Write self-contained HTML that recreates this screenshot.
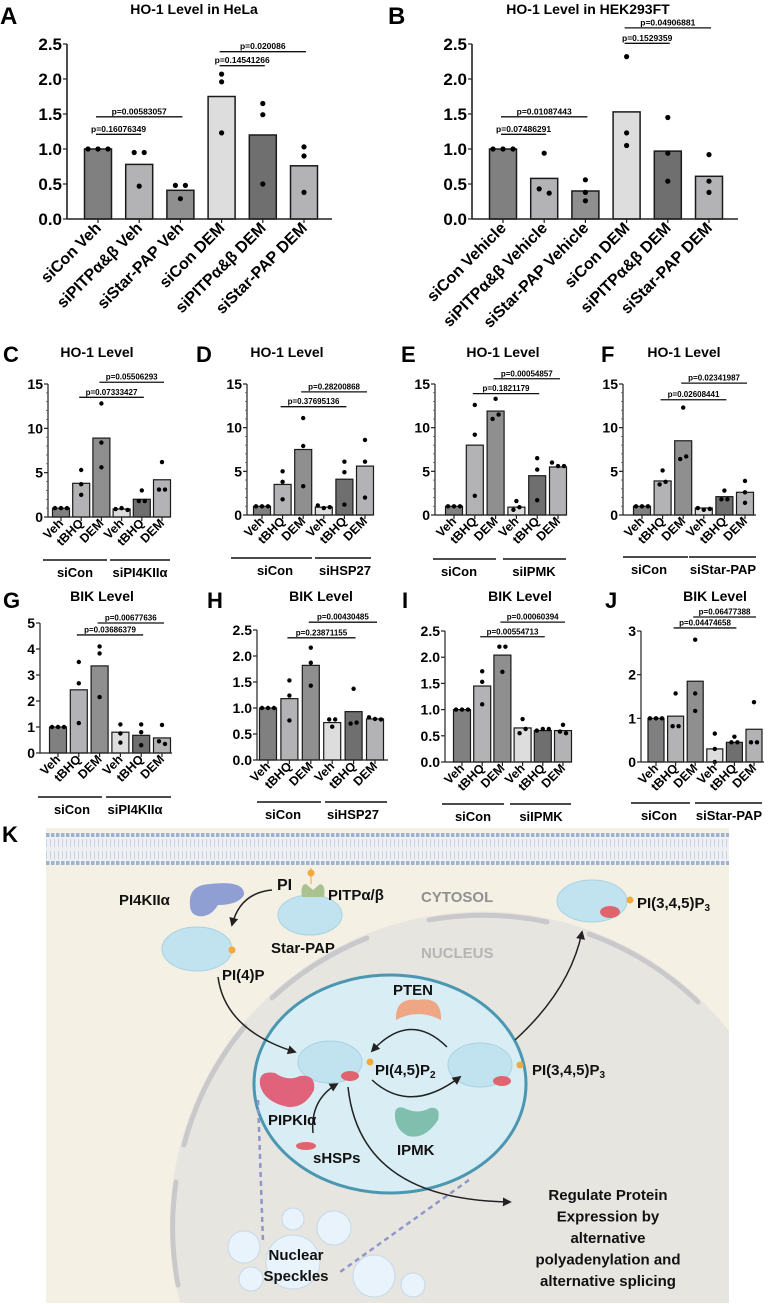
<!DOCTYPE html>
<html><head><meta charset="utf-8"><style>
html,body{margin:0;padding:0;background:#fff;width:772px;height:1304px;overflow:hidden;}
svg{display:block;font-family:"Liberation Sans",Arial,sans-serif;}
</style></head><body>
<svg id="fig" width="772" height="1304" viewBox="0 0 772 1304" xmlns="http://www.w3.org/2000/svg">
<g id="charts"></g>
<g id="diagram">
  <defs>
    <marker id="ah" viewBox="0 0 10 10" refX="8" refY="5" markerWidth="6" markerHeight="6" orient="auto"><path d="M0,0 L10,5 L0,10 z" fill="#222"/></marker>
  </defs>
  <rect x="46" y="828" width="683" height="475" fill="#f4f0e4"/>
  <path d="M180 1303 A313 313 0 0 1 729 1031 L729 1303 Z" fill="#e7e5e0"/>
  <g fill="none" stroke="#c9c9cc" stroke-width="5" stroke-linecap="round">
    <path d="M272 998 A310 310 0 0 1 367 938"/>
    <path d="M429 920 A310 310 0 0 1 547 922"/>
    <path d="M589 934 A310 310 0 0 1 698 1002"/>
    <path d="M245 1026 A310 310 0 0 0 184 1145"/>
    <path d="M176 1182 A310 310 0 0 0 178 1285"/>
  </g>
  <g>
    <rect x="46" y="833" width="683" height="32" fill="#eef0f4"/>
    <line x1="46" y1="835" x2="729" y2="835" stroke="#9fb3cf" stroke-width="4" stroke-dasharray="3.5 1.5"/>
    <line x1="46" y1="863" x2="729" y2="863" stroke="#9fb3cf" stroke-width="4" stroke-dasharray="3.5 1.5"/>
    <line x1="46" y1="843" x2="729" y2="843" stroke="#c8d4e6" stroke-width="8" stroke-dasharray="1 3"/>
    <line x1="46" y1="855" x2="729" y2="855" stroke="#c8d4e6" stroke-width="8" stroke-dasharray="1 3"/>
  </g>
  <ellipse cx="390" cy="1084" rx="136" ry="109" fill="#d8edf4" stroke="#4b97b1" stroke-width="3"/>
  <g fill="#e9f3fb" stroke="#c4d9ea">
    <circle cx="244" cy="1247" r="16"/><circle cx="293" cy="1219" r="11"/><circle cx="334" cy="1228" r="17"/>
    <circle cx="293" cy="1262" r="27"/><circle cx="251" cy="1279" r="12"/><circle cx="374" cy="1276" r="21"/><circle cx="413" cy="1285" r="12"/>
  </g>
  <g stroke="#8f96cb" stroke-width="2.5" stroke-dasharray="5 4" fill="none">
    <path d="M258 1100 L263 1242"/><path d="M469 1180 L340 1272"/>
  </g>
  <g>
    <path d="M311 868 L311 884" stroke="#f1d27a" stroke-width="2"/>
    <circle cx="311" cy="873" r="3.5" fill="#f3a93c"/>
    <path d="M190 905 Q188 885 210 884 Q245 880 244 895 Q238 905 218 905 Q210 918 198 916 Q190 914 190 905z" fill="#8f9fd4"/>
    <ellipse cx="310" cy="915" rx="32" ry="20" fill="#c0e3ef" stroke="#a8d2e4"/>
    <path d="M302 897 Q300 884 306 884 L313 890 L320 884 Q326 885 324 897z" fill="#a9c28f"/>
    <ellipse cx="197" cy="949" rx="35" ry="22" fill="#c0e3ef" stroke="#a8d2e4"/>
    <circle cx="232" cy="950" r="3.5" fill="#f3a93c"/>
    <ellipse cx="592" cy="901" rx="35" ry="21" fill="#c0e3ef" stroke="#a8d2e4"/>
    <ellipse cx="330" cy="1062" rx="32" ry="21" fill="#c0e3ef" stroke="#a8d2e4"/>
    <ellipse cx="480" cy="1065" rx="32" ry="22" fill="#c0e3ef" stroke="#a8d2e4"/>
    <path d="M396 1020 Q395 997 418 1000 Q442 996 441 1020 Q418 1008 396 1020z" fill="#eea685"/>
    <path d="M260 1085 Q258 1070 275 1073 Q288 1082 300 1076 Q316 1074 314 1090 Q305 1108 288 1107 Q264 1102 260 1085z" fill="#e0627b"/>
    <path d="M395 1117 Q394 1105 404 1108 Q418 1115 430 1108 Q441 1106 438 1120 Q425 1140 408 1136 Q396 1130 395 1117z" fill="#80bfae"/>
    <g fill="#e0646e"><ellipse cx="350" cy="1076" rx="9" ry="5"/><ellipse cx="502" cy="1081" rx="9" ry="5"/><ellipse cx="610" cy="912" rx="10" ry="6"/><ellipse cx="306" cy="1146" rx="10" ry="4"/></g>
    <g fill="#f3a93c"><circle cx="370" cy="1062" r="3.5"/><circle cx="520" cy="1065" r="3.5"/><circle cx="630" cy="900" r="3.5"/></g>
  </g>
  <g fill="none" stroke="#222" stroke-width="1.5">
    <path d="M272 890 Q240 893 232 925" marker-end="url(#ah)"/>
    <path d="M218 977 Q225 1030 295 1052" marker-end="url(#ah)"/>
    <path d="M447 1047 Q410 1010 372 1051" marker-end="url(#ah)"/>
    <path d="M372 1080 Q410 1115 460 1077" marker-end="url(#ah)"/>
    <path d="M313 1133 Q310 1100 337 1084" marker-end="url(#ah)"/>
    <path d="M515 1040 Q570 990 582 932" marker-end="url(#ah)"/>
    <path d="M348 1087 Q360 1200 510 1202" marker-end="url(#ah)"/>
  </g>
  <g font-weight="bold" font-size="15" fill="#111">
    <text x="277" y="890" font-size="16">PI</text>
    <text x="328" y="900">PITPα/β</text>
    <text x="119" y="905">PI4KIIα</text>
    <text x="421" y="902" fill="#909090">CYTOSOL</text>
    <text x="271" y="953">Star-PAP</text>
    <text x="222" y="980">PI(4)P</text>
    <text x="421" y="958" fill="#b5b5b5">NUCLEUS</text>
    <text x="637" y="908">PI(3,4,5)P<tspan font-size="10" dy="3">3</tspan></text>
    <text x="393" y="995">PTEN</text>
    <text x="375" y="1075">PI(4,5)P<tspan font-size="10" dy="3">2</tspan></text>
    <text x="532" y="1075">PI(3,4,5)P<tspan font-size="10" dy="3">3</tspan></text>
    <text x="268" y="1125">PIPKIα</text>
    <text x="397" y="1155">IPMK</text>
    <text x="313" y="1163">sHSPs</text>
    <text x="296" y="1260" text-anchor="middle"><tspan x="296">Nuclear</tspan><tspan x="296" dy="21">Speckles</tspan></text>
    <text x="608" y="1200" text-anchor="middle"><tspan x="608">Regulate Protein</tspan><tspan x="608" dy="21.5">Expression by</tspan><tspan x="608" dy="21.5">alternative</tspan><tspan x="608" dy="21.5">polyadenylation and</tspan><tspan x="608" dy="21.5">alternative splicing</tspan></text>
  </g>
  <text x="2" y="842" font-size="22" font-weight="bold">K</text>
</g>
</svg>
<script>
// ---- data ----
const bigCatsA = ["siCon Veh","siPITPα&β Veh","siStar-PAP Veh","siCon DEM","siPITPα&β DEM","siStar-PAP DEM"];
const bigCatsB = ["siCon Vehicle","siPITPα&β Vehicle","siStar-PAP Vehicle","siCon DEM","siPITPα&β DEM","siStar-PAP DEM"];
const smallCats = ["Veh","tBHQ","DEM","Veh","tBHQ","DEM"];
const aBars = [1.0,0.78,0.41,1.75,1.2,0.76];
const aDots = [[1,1,1],[0.95,0.95,0.47],[0.48,0.48,0.29],[2.07,1.96,1.23],[1.65,1.49,0.5],[1.03,0.9,0.38]];
const bBars = [1.0,0.58,0.40,1.53,0.97,0.61];
const bDots = [[1,1,1],[0.94,0.43,0.37],[0.56,0.38,0.26],[2.32,1.23,1.05],[1.45,0.94,0.54],[0.92,0.54,0.38]];
const cBars = [1.0,3.8,8.9,0.9,2.0,4.2];
const cDots = [[1,1,1],[5.3,3.7,2.5],[12.8,8.4,5.6],[0.9,1.0,0.8],[3.0,1.8,1.8],[6.2,3.1,3.1]];
const dBars = [1.0,3.5,7.5,0.9,4.1,5.6];
const dDots = [[1,1,1],[5.0,3.8,1.8],[11.1,7.9,3.3],[1.1,0.8,0.9],[6.1,4.9,1.2],[8.6,6.1,2.0]];
const eBars = [1.0,8.0,11.9,0.9,4.5,5.5];
const eDots = [[1,1,1],[12.6,9.2,2.2],[13.3,11.0,11.5],[1.6,0.6,0.9],[6.5,5.2,1.7],[6.0,5.6,5.6]];
const fBars = [1.0,3.9,8.5,0.8,2.1,2.6];
const fDots = [[1,1,1],[5.1,3.5,3.8],[12.3,6.4,6.7],[0.8,0.6,0.7],[2.8,1.8,1.8],[3.9,2.6,1.4]];
const gBars = [1.0,2.43,3.35,0.8,0.68,0.58];
const gDots = [[1,1,1],[3.5,2.68,1.15],[4.1,3.83,2.15],[1.1,0.75,0.4],[1.1,0.8,0.3],[1.08,0.45,0.35]];
const hBars = [1.0,1.18,1.82,0.72,0.93,0.79];
const hDots = [[1,1,1],[1.53,1.24,0.76],[2.16,1.87,1.43],[0.78,0.78,0.64],[1.37,0.7,0.72],[0.82,0.79,0.78]];
const iBars = [1.0,1.45,2.04,0.65,0.6,0.6];
const iDots = [[1,1,1],[1.73,1.53,1.1],[2.2,2.2,1.72],[0.82,0.55,0.63],[0.6,0.63,0.63],[0.71,0.58,0.55]];
const jBars = [1.0,1.05,1.85,0.3,0.45,0.75];
const jDots = [[1,1,1],[1.57,0.82,0.82],[2.8,1.57,1.17],[0.65,0.0,0.3],[0.58,0.45,0.45],[1.37,0.45,0.45]];
const ticksAB = [0,0.5,1.0,1.5,2.0,2.5];
const ticksHO = [0,5,10,15];
const ticksG = [0,1,2,3,4,5];
const ticksHI = [0,0.5,1.0,1.5,2.0,2.5];
const ticksJ = [0,1,2,3];
const aP = ["p=0.16076349","p=0.00583057","p=0.14541266","p=0.020086"];
const aPLevels = [1.21,1.46,2.19,2.39];
const bP = ["p=0.07486291","p=0.01087443","p=0.1529359","p=0.04906881"];
const bPLevels = [1.21,1.46,2.51,2.73];
const cP = ["p=0.07333427","p=0.05506293"]; const cPLevels = [13.5,15.2];
const dP = ["p=0.37695136","p=0.28200868"]; const dPLevels = [12.4,14.1];
const eP = ["p=0.1821179","p=0.00054857"]; const ePLevels = [13.9,15.6];
const fP = ["p=0.02608441","p=0.02341987"]; const fPLevels = [13.2,15.1];
const gP = ["p=0.03686379","p=0.00677636"]; const gPLevels = [4.54,5.0];
const hP = ["p=0.23871155","p=0.00430485"]; const hPLevels = [2.35,2.65];
const iP = ["p=0.00554713","p=0.00060394"]; const iPLevels = [2.39,2.67];
const jP = ["p=0.04474658","p=0.06477388"]; const jPLevels = [3.07,3.32];

const NS="http://www.w3.org/2000/svg";
const root=document.getElementById('charts');
const colors=["#808080","#b3b3b6","#8f8f8f","#dddddd","#6f6f6f","#b3b3b6"];
function mk(tag,attrs,parent){const e=document.createElementNS(NS,tag);for(const k in attrs)e.setAttribute(k,attrs[k]);parent.appendChild(e);return e;}
function txt(s,attrs,parent){const e=mk('text',attrs,parent);e.textContent=s;return e;}

function panel(L,cats,bars,dots,ticks,pLab,pLev,pairs,groups){
  const g=mk('g',{},root);
  
  
  const vmax=ticks[ticks.length-1];
  const ys=v=>L.y0-(v/vmax)*(L.y0-L.yTop);
  const xs=i=>L.c0+i*L.step;
  const pl=txt(L.id.toUpperCase(),{x:L.lx,y:L.ly,'font-size':L.big?24:22,'font-weight':'bold'},g);
  
  
  const t=txt(L.title,{x:L.tx,y:L.ty,'font-size':14,'font-weight':'bold','text-anchor':'middle'},g);
  
  
  const ya=mk('line',{x1:L.ax,y1:L.yTop,x2:L.ax,y2:L.y0,stroke:'#222','stroke-width':L.big?1.6:1.2},g);
  
  
  if(L.minor){for(let v=0;v<=vmax;v+=L.minor){mk('line',{x1:L.ax-2,y1:ys(v),x2:L.ax,y2:ys(v),stroke:'#555','stroke-width':0.8},g);}}
  ticks.forEach(v=>{
    mk('line',{x1:L.ax-4,y1:ys(v),x2:L.ax,y2:ys(v),stroke:'#222','stroke-width':1.2},g);
    const lab=txt(L.fmt?v.toFixed(1):String(v),{x:L.ax-5,y:ys(v)+(L.big?6:5),'font-size':L.big?17:14,'font-weight':'bold','text-anchor':'end'},g);
    
    
  });
  bars.forEach((v,i)=>{
    const b=mk('rect',{x:xs(i)-L.bw/2,y:ys(v),width:L.bw,height:L.y0-ys(v),fill:colors[i],stroke:'#1a1a1a','stroke-width':L.big?1.5:1.2},g);
    
    
  });
  dots.forEach((arr,i)=>{
    const sp=L.big?10:6;
    arr.forEach((v,k)=>{
      let off;
      const same=arr.filter(w=>Math.abs(w-v)/vmax<0.04).length;
      if(same===3) off=(k-1)*sp; else if(same===2){off=(arr.slice(0,k).filter(w=>Math.abs(w-v)/vmax<0.04).length?1:-1)*sp/2;} else off=0;
      const d=mk('circle',{cx:xs(i)+off,cy:ys(v),r:L.big?2.6:2.2,fill:'#000'},g);
      
      
    });
  });
  const xa=mk('line',{x1:L.ax,y1:L.y0,x2:L.xEnd,y2:L.y0,stroke:'#222','stroke-width':L.big?1.6:1.2},g);
  
  
  cats.forEach((c,i)=>{
    mk('line',{x1:xs(i),y1:L.y0,x2:xs(i),y2:L.y0+4,stroke:'#222','stroke-width':1.2},g);
    const x=xs(i)+(L.big?4:3), y=L.y0+(L.big?10:7);
    const lab=txt(c,{x:x,y:y,'font-size':L.big?16:12.5,'font-weight':'bold','text-anchor':'end',transform:'rotate(-45 '+x+' '+y+')'},g);
    
    
  });
  pLab.forEach((p,k)=>{
    const a=xs(pairs[k][0])-2,b=xs(pairs[k][1])+2,y=ys(pLev[k]);
    const ln=mk('line',{x1:a,y1:y,x2:b,y2:y,stroke:'#111','stroke-width':1.3},g);
    
    
    const pt=txt(p,{x:(a+b)/2,y:y-2.5,'font-size':L.big?8.5:8,'font-weight':'bold','text-anchor':'middle'},g);
    
    
  });
  if(groups){
    groups.forEach(gr=>{
      const ln=mk('line',{x1:gr[1],y1:L.gy,x2:gr[2],y2:L.gy,stroke:'#111','stroke-width':1.5},g);
      
      
      const gt=txt(gr[0],{x:gr[3],y:L.gy+17,'font-size':13,'font-weight':'bold','text-anchor':'middle'},g);
      
      
    });
  }
}
const big=[[0,1],[0,2],[3,4],[3,5]], sm=[[1,4],[2,5]];
panel({id:'a',big:true,title:'HO-1 Level in HeLa',tx:194,ty:14,lx:0,ly:24,ax:67,y0:219,yTop:44,c0:98,step:41.2,bw:27,xEnd:332,fmt:true},bigCatsA,aBars,aDots,ticksAB,aP,aPLevels,big);
panel({id:'b',big:true,title:'HO-1 Level in HEK293FT',tx:588,ty:14,lx:388,ly:24,ax:472,y0:219,yTop:44,c0:503,step:41.2,bw:27,xEnd:738,fmt:true},bigCatsB,bBars,bDots,ticksAB,bP,bPLevels,big);
panel({id:'c',title:'HO-1 Level',tx:97,ty:357,lx:3,ly:362,ax:48,y0:517,yTop:384,c0:61,step:20.2,bw:17,xEnd:170,minor:1,gy:560},smallCats,cBars,cDots,ticksHO,cP,cPLevels,sm,[['siCon',43,107,75],['siPI4KIIα',110,170,140]]);
panel({id:'d',title:'HO-1 Level',tx:287,ty:357,lx:196,ly:362,ax:247,y0:515,yTop:384,c0:262,step:20.6,bw:17,xEnd:372,minor:1,gy:558},smallCats,dBars,dDots,ticksHO,dP,dPLevels,sm,[['siCon',231,312,275],['siHSP27',315,371,345]]);
panel({id:'e',title:'HO-1 Level',tx:503,ty:357,lx:401,ly:362,ax:435,y0:515,yTop:384,c0:454,step:20.8,bw:17,xEnd:566,minor:1,gy:559},smallCats,eBars,eDots,ticksHO,eP,ePLevels,sm,[['siCon',433,496,459],['siIPMK',503,566,534]]);
panel({id:'f',title:'HO-1 Level',tx:684,ty:357,lx:601,ly:362,ax:623,y0:515,yTop:384,c0:642,step:20.6,bw:17,xEnd:756,minor:1,gy:557},smallCats,fBars,fDots,ticksHO,fP,fPLevels,sm,[['siCon',623,688,649],['siStar-PAP',689,756,723]]);
panel({id:'g',title:'BIK Level',tx:102,ty:601,lx:3,ly:608,ax:40,y0:753,yTop:623,c0:58,step:20.8,bw:17,xEnd:172,gy:797},smallCats,gBars,gDots,ticksG,gP,gPLevels,sm,[['siCon',38,102,72],['siPI4KIIα',106,171,135]]);
panel({id:'h',title:'BIK Level',tx:321,ty:601,lx:207,ly:608,ax:257,y0:760,yTop:630,c0:268,step:21.4,bw:17,xEnd:388,fmt:true,gy:802},smallCats,hBars,hDots,ticksHI,hP,hPLevels,sm,[['siCon',257,321,283],['siHSP27',325,387,353]]);
panel({id:'i',title:'BIK Level',tx:520,ty:601,lx:402,ly:608,ax:445,y0:762,yTop:631,c0:462,step:20.2,bw:17,xEnd:572,fmt:true,gy:804},smallCats,iBars,iDots,ticksHI,iP,iPLevels,sm,[['siCon',442,504,473],['siIPMK',510,571,541]]);
panel({id:'j',title:'BIK Level',tx:715,ty:601,lx:605,ly:608,ax:641,y0:762,yTop:631,c0:656,step:19.6,bw:16,xEnd:764,gy:803},smallCats,jBars,jDots,ticksJ,jP,jPLevels,sm,[['siCon',631,690,659],['siStar-PAP',695,762,729]]);
</script>
</body></html>
